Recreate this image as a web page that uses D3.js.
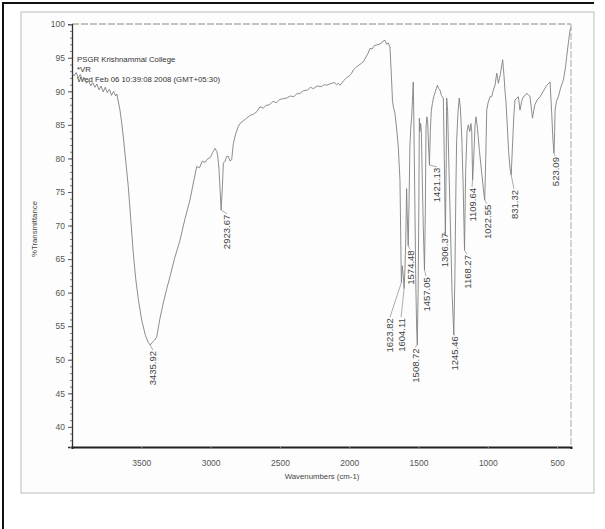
<!DOCTYPE html>
<html>
<head>
<meta charset="utf-8">
<script src="https://cdn.jsdelivr.net/npm/d3@7"></script>
<style>
  body { margin: 0; background: #fff; }
  svg { display: block; font-family: "Liberation Sans", Arial, sans-serif; }
</style>
</head>
<body>
<svg id="chart" width="605" height="529"></svg>
<script>
// spectrum (wavenumber cm-1, %T)
const wavenumbers = [3995,3985,3970,3955,3940,3925,3910,3895,3880,3865,3850,3835,3820,3805,3790,3775,3760,3745,3730,3715,3700,3685,3677,3665,3654,3642,3630,3612,3594,3576,3558,3540,3520,3497,3470,3450,3436,3420,3405,3389,3365,3340,3316,3293,3260,3221,3185,3149,3125,3100,3080,3060,3040,3028,3000,2985,2968,2955,2948,2940,2932,2924,2915,2908,2895,2885,2872,2860,2848,2836,2820,2800,2788,2765,2740,2715,2690,2665,2644,2620,2600,2575,2550,2525,2500,2475,2450,2425,2400,2380,2355,2330,2300,2280,2259,2230,2200,2180,2162,2140,2110,2090,2079,2066,2040,2020,2000,1985,1970,1950,1930,1910,1898,1880,1865,1850,1835,1820,1802,1785,1766,1755,1742,1730,1718,1706,1695,1688,1682,1670,1657,1646,1634,1629,1623.82,1617,1610,1604.11,1598,1592,1586,1582,1574.48,1568,1562,1556,1550,1544,1538,1534,1528,1520,1514,1508.72,1503,1498,1494,1490,1485,1480,1474,1466,1457.05,1451,1446,1440,1434,1428,1421.13,1415,1408,1400,1390,1378,1364,1355,1345,1335,1321,1314,1306.37,1300,1297,1290,1280,1270,1258,1245.46,1238,1230,1225,1215,1206,1198,1188,1178,1168.27,1160,1150,1141,1130,1122,1116,1109.64,1102,1092,1085,1075,1060,1045,1030,1022.55,1015,1008,997,984,972,960,948,936,930,924,910,900,893,888,883,876,869,860,850,840,831.32,822,812,804,790,780,768,756,744,730,720,708,696,686,678,668,660,645,623,600,575,560,551,545,539,531,523.09,518,515,505,491,475,455,440,431,419,407,400];
const transmittance = [92.6,92.3,92.8,92.0,92.5,91.6,92.0,91.2,91.6,90.8,91.3,90.6,91.1,90.2,90.8,89.9,90.6,89.8,90.3,89.4,90.0,89.3,89.6,88.4,87.2,85.4,83.2,79.6,75.8,70.9,65.9,62.0,58.8,55.9,53.6,52.6,52.2,52.6,52.9,53.4,56.2,58.6,60.6,62.4,65.1,67.8,71.0,73.8,76.3,78.8,78.6,79.6,79.4,79.8,80.2,80.9,81.5,81.0,80.3,78.5,75.5,72.3,75.8,79.3,79.6,80.3,80.3,79.6,79.8,82.2,83.6,84.8,85.2,85.6,86.0,86.4,86.6,87.0,87.7,87.5,87.9,88.0,88.5,88.3,88.8,88.9,89.0,89.3,89.2,89.6,89.7,90.1,90.2,90.6,90.4,90.8,90.7,91.0,90.9,91.1,91.3,91.0,91.2,90.9,91.6,92.0,92.3,92.6,93.2,93.6,93.9,94.2,94.4,95.1,95.6,96.4,96.3,96.8,96.9,97.0,97.2,97.5,97.6,97.0,97.2,96.6,92.0,88.6,87.7,86.7,84.2,81.7,76.8,69.3,61.5,64.0,62.5,60.6,63.5,68.0,75.5,72.0,67.0,74.0,82.0,84.5,86.0,88.5,91.4,86.0,76.0,62.0,55.0,52.2,60.0,72.0,86.0,84.0,85.2,84.2,78.0,70.0,63.4,72.0,84.5,86.2,85.4,82.0,79.0,84.0,87.0,88.2,89.2,90.0,90.9,90.4,90.2,89.4,89.0,80.0,68.6,80.0,89.0,87.0,78.0,70.0,60.0,53.7,62.0,76.0,82.7,87.0,89.0,87.5,83.2,76.0,66.3,78.0,84.0,85.0,84.0,85.2,84.0,76.8,80.0,85.0,86.2,84.5,81.0,78.0,75.0,73.8,80.0,87.2,88.4,89.2,89.2,90.2,90.9,92.7,92.0,91.2,92.5,93.8,94.7,93.5,92.2,90.0,88.4,85.0,81.0,78.5,77.5,82.0,86.5,88.7,89.0,89.2,87.2,88.5,89.2,89.4,89.7,89.5,89.2,87.5,86.0,87.2,88.0,88.7,89.2,90.0,90.9,91.2,91.4,89.0,86.7,83.0,80.8,84.0,87.2,88.5,89.2,90.5,91.7,93.5,95.2,97.2,99.1,99.5];

// peak picks: label text, peak position, label anchor (data units)
const peakLabels = ["3435.92","2923.67","1623.82","1604.11","1574.48","1508.72","1457.05","1421.13","1306.37","1245.46","1168.27","1109.64","1022.55","831.32","523.09"];
const peakWn     = [3435.92,2923.67,1623.82,1604.11,1574.48,1508.72,1457.05,1421.13,1306.37,1245.46,1168.27,1109.64,1022.55,831.32,523.09];
const peakT      = [52.2,72.3,61.5,60.6,67.0,52.2,63.4,79.0,68.6,53.7,66.3,76.8,73.8,77.5,80.8];
const labelWn    = [3416,2882,1706,1626,1561,1525,1446,1367,1316,1237,1150,1114,1006,811,515];
const labelT     = [51.3,71.6,56.2,56.2,66.3,51.7,62.3,78.6,68.9,53.5,65.6,75.6,73.1,75.3,80.2];

const xTicks = [3500,3000,2500,2000,1500,1000,500];
const yTicks = [40,45,50,55,60,65,70,75,80,85,90,95,100];
const headerLines = ["PSGR Krishnammal College","*VR","Wed Feb 06 10:39:08 2008 (GMT+05:30)"];

const svg = d3.select("#chart");

// scanned page edge
svg.append("rect").attr("x", 21).attr("y", 12).attr("width", 573).attr("height", 481)
  .attr("fill", "#fdfdfd").attr("stroke", "#bbb").attr("stroke-width", 1);

// document cell border (top and left only)
svg.append("path").attr("d", "M3,529 V3 H594")
  .attr("fill", "none").attr("stroke", "#111").attr("stroke-width", 2);

const x = d3.scaleLinear().domain([4000, 400]).range([72, 571]);
const y = d3.scaleLinear().domain([37, 100]).range([447, 24.2]);

const g = svg.append("g");

// plot frame: dashed top & right, solid left & bottom
g.append("line").attr("x1", 72).attr("x2", 571).attr("y1", 24).attr("y2", 24)
  .attr("stroke", "#888").attr("stroke-dasharray", "7,2");
g.append("line").attr("x1", 571).attr("x2", 571).attr("y1", 24).attr("y2", 447)
  .attr("stroke", "#aaa").attr("stroke-dasharray", "7,2");

// y axis
const yAxis = g.append("g").attr("transform", "translate(72,0)")
  .call(d3.axisLeft(y).tickValues(yTicks).tickFormat(d3.format("d")).tickSize(4).tickPadding(3));
g.append("g").attr("transform", "translate(72,0)")
  .call(d3.axisLeft(y).tickValues(d3.range(37, 101, 1)).tickSize(2).tickFormat(""))
  .call(a => a.select(".domain").remove())
  .selectAll("line").attr("stroke", "#777");
yAxis.select(".domain").attr("stroke", "#333").attr("stroke-width", 1.3);
yAxis.selectAll("text").attr("font-size", 8.5).attr("fill", "#555");
yAxis.selectAll(".tick line").attr("stroke", "#555");

// x axis
const xAxis = g.append("g").attr("transform", "translate(0,447)")
  .call(d3.axisBottom(x).tickValues(xTicks).tickFormat(d3.format("d")).tickSize(2).tickPadding(11));
xAxis.select(".domain").attr("stroke", "#222").attr("stroke-width", 2);
xAxis.selectAll("text").attr("font-size", 8.5).attr("fill", "#555");
xAxis.selectAll(".tick line").attr("stroke", "#999");

// axis titles
g.append("text").attr("transform", "translate(37,229) rotate(-90)")
  .attr("text-anchor", "middle").attr("font-size", 7.8).attr("fill", "#444")
  .text("%Transmittance");
g.append("text").attr("x", 322).attr("y", 479)
  .attr("text-anchor", "middle").attr("font-size", 7.8).attr("fill", "#444")
  .text("Wavenumbers (cm-1)");

// header text
g.selectAll(".hdr").data(headerLines).join("text")
  .attr("x", 77).attr("y", (d, i) => 62 + i * 10)
  .attr("font-size", 7.8).attr("fill", "#333").text(d => d);

// spectrum
const pts = wavenumbers.map((w, i) => [w, transmittance[i]]);
g.append("path").datum(pts)
  .attr("fill", "none").attr("stroke", "#808080").attr("stroke-width", 0.9)
  .attr("d", d3.line().x(d => x(d[0])).y(d => y(d[1])));

// peak leaders and labels
const peaks = peakLabels.map((t, i) => ({ t, wn: peakWn[i], T: peakT[i], lw: labelWn[i], lt: labelT[i] }));
g.selectAll(".leader").data(peaks).join("line")
  .attr("x1", d => x(d.wn)).attr("y1", d => y(d.T))
  .attr("x2", d => x(d.lw)).attr("y2", d => y(d.lt) - 1)
  .attr("stroke", "#888").attr("stroke-width", 0.7);
g.selectAll(".plabel").data(peaks).join("text")
  .attr("transform", d => `translate(${x(d.lw)},${y(d.lt)}) rotate(-90)`)
  .attr("text-anchor", "end").attr("dominant-baseline", "central")
  .attr("font-size", 9.5).attr("fill", "#444")
  .text(d => d.t);
</script>
</body>
</html>
